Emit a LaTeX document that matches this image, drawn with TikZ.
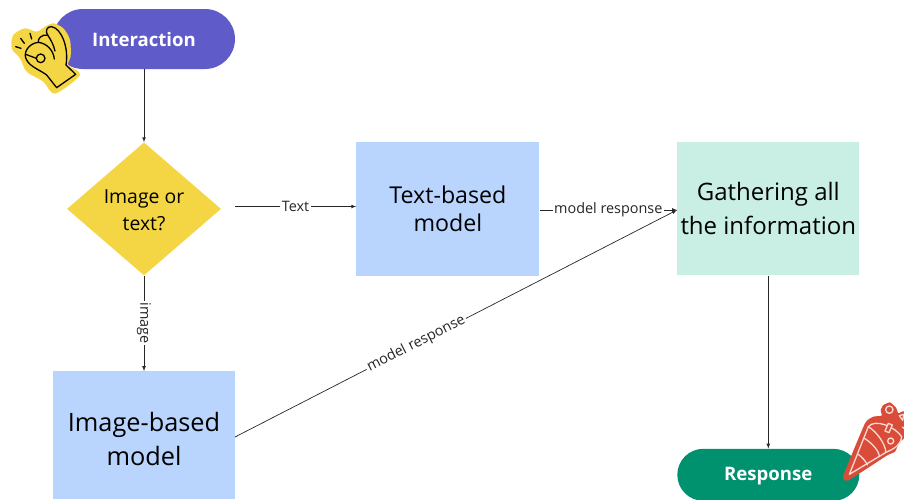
\documentclass[tikz,border=0pt]{standalone}
\usepackage{fontspec}
\setmainfont{Open Sans}
\usetikzlibrary{arrows,positioning,shapes.geometric,shapes.misc}
\definecolor{startcolor}{HTML}{5F5BC8}
\definecolor{endcolor}{HTML}{00916E}
\definecolor{askcolor}{HTML}{F4D644}
\definecolor{modelcolor}{HTML}{B9D4FD}
\definecolor{gathercolor}{HTML}{C9EEE4}
\definecolor{poppercolor}{HTML}{D94C3A}
\definecolor{popperline}{HTML}{FBDAD2}
\newcommand{\topgap}[1]{\rule{0pt}{#1}}
\tikzset{
    terminal/.style={rounded rectangle,minimum width=182pt,minimum height=60pt,inner sep=0pt,text=white,font=\fontsize{18.6}{22}\selectfont\bfseries},
    decision/.style={diamond,fill=askcolor,aspect=1.158,minimum width=154pt,minimum height=133pt,inner sep=0pt,align=center,font=\fontsize{19.4}{27}\selectfont},
    model/.style={rectangle,fill=modelcolor,inner sep=0pt,align=center},
    link/.style={draw,-latex,black!85,line width=0.7pt},
    linklabel/.style={fill=white,inner sep=1.5pt,font=\fontsize{14.4}{16}\selectfont},
    iconline/.style={line width=1.3pt,line cap=round,line join=round}
}
\begin{document}
\begin{tikzpicture}[x=1pt,y=1pt]
    \useasboundingbox (0,0) rectangle (904,-499);
    \node[terminal,fill=startcolor] (interaction) at (144,-39) {\topgap{16pt}Interaction};
    \node[decision] (ask) [below=73pt of interaction] {\topgap{17pt}Image or\\text?};
    \node[model,minimum width=183pt,minimum height=134pt,font=\fontsize{23.2}{28.5}\selectfont] (text model) [right=135pt of ask] {Text-based\\model};
    \node[model,fill=gathercolor,minimum width=182pt,minimum height=133pt,font=\fontsize{24}{34}\selectfont] (gather) [right=137.5pt of text model] {Gathering all\\the information};
    \node[model,minimum width=182pt,minimum height=128pt,font=\fontsize{25.3}{34}\selectfont] (image model) [below=95.5pt of ask] {\topgap{26pt}Image-based\\model};
    \node[terminal,fill=endcolor,minimum height=52pt] (response) [below=173pt of gather] {\topgap{16pt}Response};
    % free ends of the two links that stop short of a box
    \coordinate (ask out) at (235,-206.5);
    \coordinate (image out) at (235,-437);
    \coordinate (gather in) at (677,-210);

    \draw[link] (interaction.south -| ask.north) -- (ask.north);
    \draw[link] (ask out) -- node[linklabel] {Text} (ask out -| text model.west);
    \draw[link] (ask.south) -- node[linklabel,rotate=-90] {image} (image model.north -| ask.south);
    \draw[link] (text model.east |- gather in) -- node[linklabel,pos=.5] {model response} (gather in);
    \draw[link] (image out) -- node[linklabel,sloped,pos=.41] {model response} (gather in);
    \draw[link] (gather.south) -- (response.north);

    % hand, typed in the pixels of a 3x crop
    \begin{scope}[shift={(5,-15)},x=0.3333pt,y=-0.3333pt]
        \fill[askcolor] plot[smooth cycle,tension=.5] coordinates {(145,25) (175,40) (195,75) (197,125) (190,150) (225,180) (150,236) (115,200) (65,170) (45,130) (20,100) (25,60) (60,40) (95,50) (120,35)};
        \draw[iconline] (155,218) -- (212,178) -- (183,150) .. controls (192,100) and (170,40) .. (140,35) .. controls (125,33) and (120,50) .. (128,60) .. controls (138,75) and (146,90) .. (150,108);
        \draw[iconline] (128,60) .. controls (108,58) and (98,72) .. (100,82) .. controls (70,85) and (52,115) .. (65,135) .. controls (75,155) and (105,165) .. (125,180) -- (155,218);
        \draw[iconline] (100,82) .. controls (125,85) and (145,105) .. (148,132);
        \draw[iconline] (107,130) circle (13);
        \draw[iconline] (62,118) -- (94,130);
        \draw[iconline] (75,55) -- (80,72);
        \draw[iconline] (47,70) -- (58,85);
        \draw[iconline] (32,95) -- (48,100);
    \end{scope}
    % popper, typed the same way from its own crop
    \begin{scope}[shift={(840,-395)},x=0.3333pt,y=-0.3333pt]
        \fill[poppercolor] plot[smooth cycle,tension=.25] coordinates {(10,242) (75,85) (100,65) (125,62) (122,45) (130,30) (150,22) (168,38) (175,55) (192,50) (192,130) (180,138) (165,170) (140,182) (25,256)};
        \draw[iconline,popperline] (28,238) -- (85,95) .. controls (105,70) and (165,95) .. (185,125) .. controls (182,150) and (165,160) .. (138,172) -- cycle;
        \draw[iconline,popperline] (85,95) .. controls (110,110) and (135,145) .. (138,172);
        \draw[iconline,popperline] (55,178) .. controls (68,188) and (78,200) .. (82,210);
        \draw[iconline,popperline] (73,130) .. controls (98,145) and (118,170) .. (118,185);
        \draw[iconline,popperline] (148,44) circle (11);
        \draw[iconline,popperline] (152,138) circle (9);
        \draw[iconline,popperline,fill=poppercolor] (135,108) -- (147,113) -- (157,90) -- (145,85) -- cycle;
        \draw[iconline,popperline] (178,62) -- (192,58) -- (188,76) -- cycle;
        \draw[iconline,popperline] (188,96) -- (192,100);
    \end{scope}
\end{tikzpicture}
\end{document}
